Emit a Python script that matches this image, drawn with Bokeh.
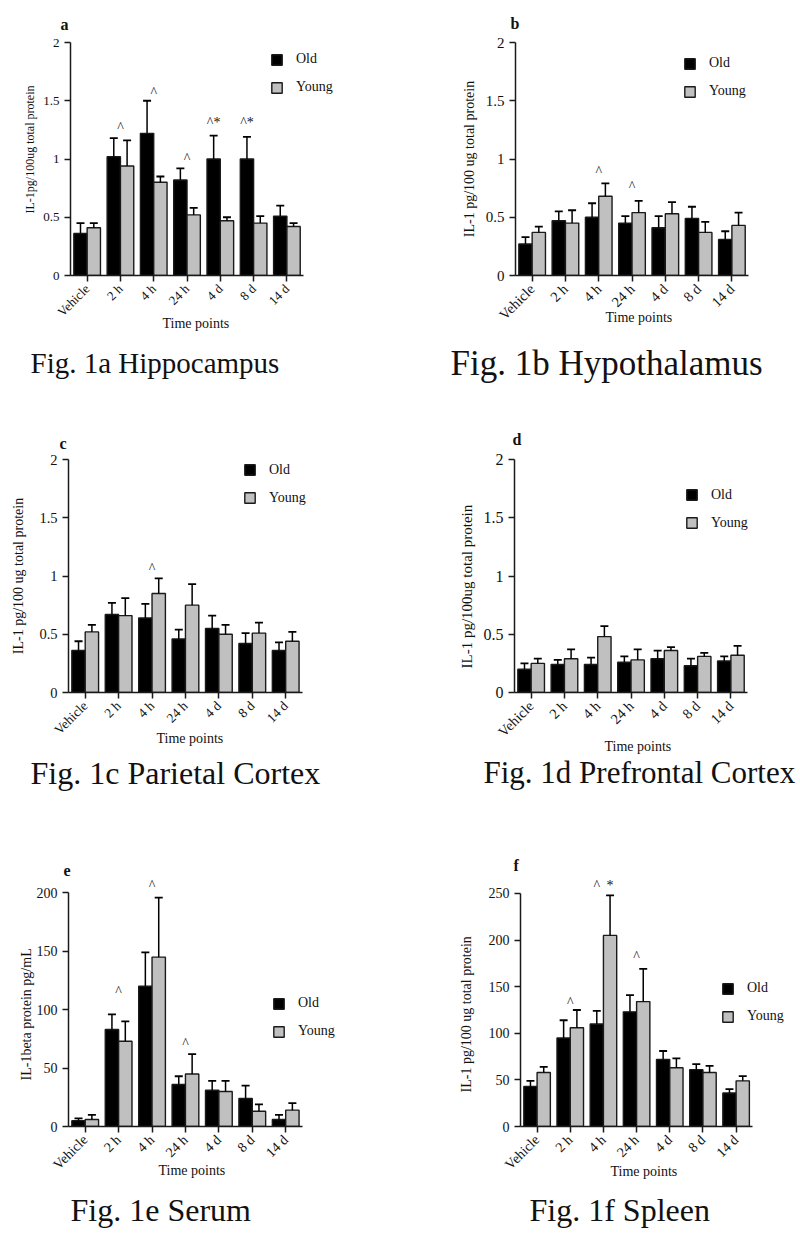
import math
from bokeh.plotting import figure
from bokeh.models import (Range1d, FixedTicker, NumeralTickFormatter, Legend, LegendItem,
                          LabelSet, ColumnDataSource, Title)
from bokeh.layouts import column, row
from bokeh.embed import file_html
from bokeh.resources import INLINE

# ---------------- data ----------------
categories = ["Vehicle", "2 h", "4 h", "24 h", "4 d", "8 d", "14 d"]

a_old = [0.36, 1.02, 1.22, 0.82, 1.00, 1.00, 0.51]
a_old_sem = [0.09, 0.16, 0.28, 0.10, 0.20, 0.19, 0.09]
a_young = [0.41, 0.94, 0.80, 0.52, 0.47, 0.45, 0.42]
a_young_sem = [0.04, 0.22, 0.05, 0.06, 0.03, 0.06, 0.03]
a_marks = [("2 h", "mid", "^", 1.30), ("4 h", "mid", "^", 1.60), ("24 h", "mid", "^", 1.03),
           ("4 d", "old", "^*", 1.34), ("8 d", "old", "^*", 1.34)]

b_old = [0.27, 0.47, 0.50, 0.45, 0.41, 0.49, 0.31]
b_old_sem = [0.06, 0.08, 0.12, 0.06, 0.10, 0.10, 0.07]
b_young = [0.37, 0.45, 0.68, 0.54, 0.53, 0.37, 0.43]
b_young_sem = [0.05, 0.11, 0.11, 0.10, 0.10, 0.09, 0.11]
b_marks = [("4 h", "mid", "^", 0.92), ("24 h", "mid", "^", 0.79)]

c_old = [0.36, 0.67, 0.64, 0.46, 0.55, 0.42, 0.36]
c_old_sem = [0.08, 0.10, 0.12, 0.08, 0.11, 0.09, 0.07]
c_young = [0.52, 0.66, 0.85, 0.75, 0.50, 0.51, 0.44]
c_young_sem = [0.06, 0.15, 0.13, 0.18, 0.08, 0.09, 0.08]
c_marks = [("4 h", "mid", "^", 1.09)]

d_old = [0.20, 0.24, 0.24, 0.26, 0.29, 0.23, 0.27]
d_old_sem = [0.05, 0.04, 0.06, 0.05, 0.07, 0.06, 0.04]
d_young = [0.25, 0.29, 0.48, 0.28, 0.36, 0.31, 0.32]
d_young_sem = [0.04, 0.08, 0.09, 0.09, 0.03, 0.03, 0.08]
d_marks = []

e_old = [5, 83, 120, 36, 31, 24, 6]
e_old_sem = [2, 13, 29, 7, 8, 11, 4]
e_young = [6, 73, 145, 45, 30, 13, 14]
e_young_sem = [4, 17, 51, 17, 9, 6, 6]
e_marks = [("2 h", "mid", "^", 118), ("4 h", "mid", "^", 209), ("24 h", "mid", "^", 74)]

f_old = [43, 95, 110, 123, 72, 61, 36]
f_old_sem = [6, 19, 14, 18, 9, 6, 4]
f_young = [58, 106, 205, 134, 63, 58, 49]
f_young_sem = [6, 19, 43, 35, 10, 7, 5]
f_marks = [("2 h", "mid", "^", 136), ("4 h", "old", "^", 262), ("4 h", "young", "*", 262),
           ("24 h", "mid", "^", 186)]

series_names = ["Old", "Young"]

# ---------------- style ----------------
FONT = "Liberation Serif"
OLD_FILL = "#000000"
YOUNG_FILL = "#c0c0c0"
EDGE = "#1a1a1a"
INK = "#111111"
BAR_W = 0.4
CAP = 0.12
X_EXTRA = 1.2          # blank room right of the axis for the legend
ANCHOR = {"old": 0.3, "mid": 0.5, "young": 0.7}


def panel(letter, old, old_sem, young, young_sem, marks, ytop, yview, yticks, fmt, ylabel,
          caption, lay):
    n = len(categories)
    p = figure(width=lay["w"], height=lay["h"], x_range=Range1d(0, n + X_EXTRA),
               y_range=Range1d(0, yview), output_backend="svg", toolbar_location=None,
               min_border_left=lay["L"], min_border_right=lay["R"],
               min_border_top=lay["T"], min_border_bottom=lay["B"])
    p.outline_line_color = None
    p.xgrid.grid_line_color = None
    p.ygrid.grid_line_color = None
    p.background_fill_color = "white"
    p.border_fill_color = "white"

    renderers = []
    for vals, sems, off, fill in ((old, old_sem, 0.3, OLD_FILL), (young, young_sem, 0.7, YOUNG_FILL)):
        xs = [i + off for i in range(n)]
        src = ColumnDataSource(dict(
            x=xs, top=vals, err=[v + s for v, s in zip(vals, sems)],
            cx0=[x - CAP for x in xs], cx1=[x + CAP for x in xs]))
        r = p.vbar(x="x", top="top", bottom=0, width=BAR_W, source=src,
                   fill_color=fill, line_color=EDGE, line_width=1.4)
        p.segment(x0="x", y0="top", x1="x", y1="err", source=src, line_color="#000000", line_width=1.5)
        p.segment(x0="cx0", y0="err", x1="cx1", y1="err", source=src, line_color="#000000", line_width=1.8)
        renderers.append(r)

    # axes
    p.yaxis.ticker = FixedTicker(ticks=yticks)
    p.yaxis.formatter = NumeralTickFormatter(format=fmt)
    p.yaxis.bounds = (0, ytop)
    p.xaxis.ticker = FixedTicker(ticks=[i + 0.5 for i in range(n)])
    p.xaxis.major_label_overrides = {i + 0.5: c for i, c in enumerate(categories)}
    p.xaxis.major_label_orientation = math.pi / 4
    p.xaxis.bounds = (0, n)
    for ax in (p.xaxis, p.yaxis):
        ax.axis_line_color = "#1a1a1a"
        ax.axis_line_width = 1.5
        ax.major_tick_line_color = "#1a1a1a"
        ax.major_tick_line_width = 1.5
        ax.major_tick_in = 0
        ax.major_tick_out = 6
        ax.minor_tick_line_color = None
        ax.major_label_text_font = FONT
        ax.major_label_text_color = INK
        ax.major_label_standoff = 5
    p.yaxis.major_label_text_font_size = "%gpx" % lay["yt"]
    p.xaxis.major_label_text_font_size = "%gpx" % lay["xt"]

    if lay["ymode"] == "axis":
        p.yaxis.axis_label = ylabel
        p.yaxis.axis_label_text_font = FONT
        p.yaxis.axis_label_text_font_size = "%gpx" % lay["yl"]
        p.yaxis.axis_label_text_font_style = "normal"
        p.yaxis.axis_label_text_color = INK
        p.yaxis.axis_label_standoff = lay["ystand"]
    else:
        p.add_layout(Title(text=ylabel, align="left", offset=lay["yoff"], standoff=lay["ystand"],
                           text_font=FONT, text_font_size="%gpx" % lay["yl"],
                           text_font_style="normal", text_color=INK), "left")

    # legend
    legend = Legend(items=[LegendItem(label=series_names[0], renderers=[renderers[0]]),
                           LegendItem(label=series_names[1], renderers=[renderers[1]])],
                    location=lay["leg"], orientation="vertical")
    legend.border_line_color = None
    legend.background_fill_alpha = 0
    legend.padding = 0
    legend.margin = 0
    legend.spacing = 12
    legend.glyph_width = 13
    legend.glyph_height = 13
    legend.label_height = 13
    legend.label_standoff = 13
    legend.label_text_font = FONT
    legend.label_text_font_size = "14px"
    legend.label_text_color = INK
    p.add_layout(legend)

    # significance marks
    if marks:
        idx = {c: i for i, c in enumerate(categories)}
        msrc = ColumnDataSource(dict(
            x=[idx[m[0]] + ANCHOR[m[1]] for m in marks],
            y=[m[3] for m in marks],
            text=[m[2] for m in marks]))
        p.add_layout(LabelSet(x="x", y="y", text="text", source=msrc, text_font=FONT,
                              text_font_size="14px", text_align="center", text_baseline="middle",
                              text_color=INK, y_offset=-3))

    # panel letter (title above)
    p.title.text = letter
    p.title.align = "left"
    p.title.offset = lay["let"][0]
    p.title.standoff = lay["let"][1]
    p.title.text_font = FONT
    p.title.text_font_size = "16px"
    p.title.text_font_style = "bold"
    p.title.text_color = INK

    # x axis title, a spacer and the figure caption (titles below)
    p.add_layout(Title(text="Time points", align="left", vertical_align="top",
                       offset=lay["tp"][0], standoff=lay["tp"][1],
                       text_font=FONT, text_font_size="14px", text_font_style="normal",
                       text_color=INK), "below")
    p.add_layout(Title(text=" ", align="left", standoff=lay["gap"], text_font=FONT,
                       text_font_size="1px"), "below")
    p.add_layout(Title(text=caption, align="left", vertical_align="top",
                       offset=lay["cap"][0], standoff=0,
                       text_font=FONT, text_font_size="%gpx" % lay["cap"][1], text_font_style="normal",
                       text_color=INK), "below")
    return p


# panels in one row share top and bottom borders (Bokeh aligns their frames)
LAY = {
    "a": dict(w=400, h=415, L=70, R=57, T=42, B=140, leg=(200, 180), let=(-10, 20),
              yt=13, xt=13, yl=12, ymode="title", ystand=8, yoff=62,
              tp=(92, -23), gap=16, cap=(-40, 29)),
    "b": dict(w=400, h=415, L=115, R=12, T=42, B=140, leg=(168, 176), let=(-5, 22),
              yt=15, xt=14.5, yl=14, ymode="axis", ystand=6, yoff=0,
              tp=(90, -43), gap=9, cap=(-65, 35)),
    "c": dict(w=400, h=415, L=68, R=58, T=44, B=138, leg=(175, 186.5), let=(-9, 15),
              yt=14.5, xt=13.5, yl=14, ymode="axis", ystand=10, yoff=0,
              tp=(88, -29), gap=6, cap=(-38, 32)),
    "d": dict(w=400, h=415, L=114, R=13, T=44, B=138, leg=(171, 161.5), let=(-2, 23),
              yt=16, xt=14.5, yl=15, ymode="title", ystand=11, yoff=24,
              tp=(90, -19), gap=3, cap=(-31, 31)),
    "e": dict(w=400, h=409, L=68, R=58, T=46, B=113, leg=(204, 86.7), let=(-5, 2),
              yt=14, xt=14, yl=14, ymode="title", ystand=0, yoff=46,
              tp=(90, -35), gap=8, cap=(2, 32)),
    "f": dict(w=400, h=409, L=120, R=8, T=46, B=113, leg=(201, 101.7), let=(-7, 6),
              yt=14, xt=14, yl=14, ymode="title", ystand=23, yoff=34,
              tp=(90, -34), gap=8, cap=(9, 32)),
}

brain_ticks = [0, 0.5, 1, 1.5, 2]
pa = panel("a", a_old, a_old_sem, a_young, a_young_sem, a_marks, 2, 2, brain_ticks, "0.[0]",
           "IL-1pg/100ug total protein", "Fig. 1a Hippocampus", LAY["a"])
pb = panel("b", b_old, b_old_sem, b_young, b_young_sem, b_marks, 2, 2, brain_ticks, "0.[0]",
           "IL-1 pg/100 ug total protein", "Fig. 1b Hypothalamus", LAY["b"])
pc = panel("c", c_old, c_old_sem, c_young, c_young_sem, c_marks, 2, 2, brain_ticks, "0.[0]",
           "IL-1 pg/100 ug total protein", "Fig. 1c Parietal Cortex", LAY["c"])
pd = panel("d", d_old, d_old_sem, d_young, d_young_sem, d_marks, 2, 2, brain_ticks, "0.[0]",
           "IL-1 pg/100ug total protein", "Fig. 1d Prefrontal Cortex", LAY["d"])
pe = panel("e", e_old, e_old_sem, e_young, e_young_sem, e_marks, 200, 214, [0, 50, 100, 150, 200], "0",
           "IL-1beta protein pg/mL", "Fig. 1e Serum", LAY["e"])
pf = panel("f", f_old, f_old_sem, f_young, f_young_sem, f_marks, 250, 268.2,
           [0, 50, 100, 150, 200, 250], "0",
           "IL-1 pg/100 ug total protein", "Fig. 1f Spleen", LAY["f"])

layout = column(row(pa, pb), row(pc, pd), row(pe, pf))
open("out.html", "w").write(file_html(layout, INLINE))
